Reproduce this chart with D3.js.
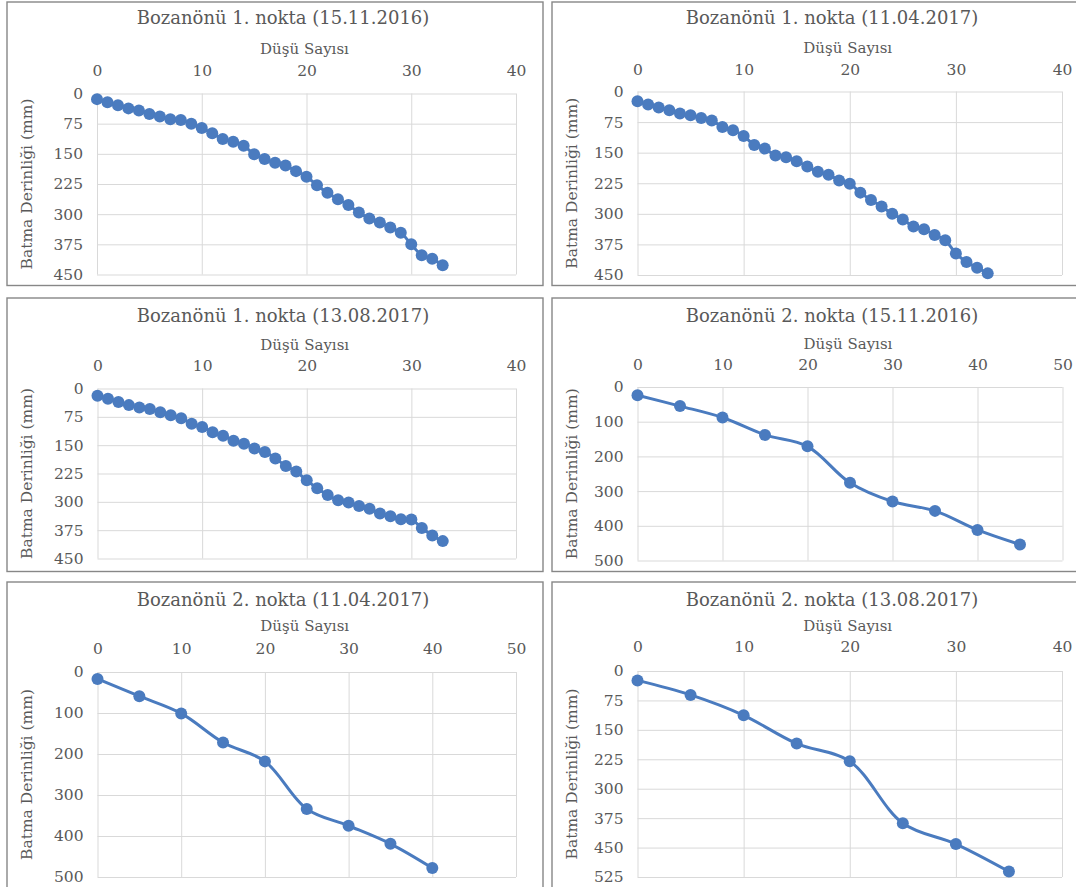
<!DOCTYPE html>
<html>
<head>
<meta charset="utf-8">
<script src="https://cdn.jsdelivr.net/npm/d3@7"></script>
<style>
  body { margin: 0; background: #fff; }
  svg { display: block; }
  text { font-family: "DejaVu Serif", "Liberation Serif", serif; fill: #595959; }
</style>
</head>
<body>
<svg id="chart" width="1076" height="887"></svg>
<script>
// Penetration test records: number of drops vs. penetration depth (mm)
const titles = [
  "Bozanönü 1. nokta (15.11.2016)",
  "Bozanönü 1. nokta (11.04.2017)",
  "Bozanönü 1. nokta (13.08.2017)",
  "Bozanönü 2. nokta (15.11.2016)",
  "Bozanönü 2. nokta (11.04.2017)",
  "Bozanönü 2. nokta (13.08.2017)"
];
const xAxisTitle = "Düşü Sayısı";
const yAxisTitle = "Batma Derinliği (mm)";

// Point 1: one reading per drop
const dropsPoint1 = [0,1,2,3,4,5,6,7,8,9,10,11,12,13,14,15,16,17,18,19,20,21,22,23,24,25,26,27,28,29,30,31,32,33];
const depthP1_20161115 = [14,22,29,37,42,51,57,64,66,75,86,99,113,120,130,151,163,172,179,193,207,228,247,263,277,296,311,321,333,346,375,402,411,427];
const depthP1_20170411 = [24,32,39,46,54,58,65,71,87,95,109,131,140,157,161,171,184,197,204,218,226,248,266,282,300,314,331,338,352,365,397,418,432,446];
const depthP1_20170813 = [19,27,36,44,50,54,63,71,79,93,102,116,125,138,146,159,168,185,205,220,243,264,282,296,302,311,318,331,338,346,347,369,389,404];

// Point 2: one reading every five drops
const dropsP2_20161115 = [0,5,10,15,20,25,30,35,40,45];
const depthP2_20161115 = [24,55,88,138,171,276,330,357,412,454];
const dropsP2_20170411 = [0,5,10,15,20,25,30,35,40];
const depthP2_20170411 = [17,59,101,172,218,334,375,419,478];
const dropsP2_20170813 = [0,5,10,15,20,25,30,35];
const depthP2_20170813 = [24,61,113,185,230,388,441,511];

// Axis ticks
const xTicks40 = [0,10,20,30,40];
const xTicks50 = [0,10,20,30,40,50];
const yTicks450 = [0,75,150,225,300,375,450];
const yTicks500 = [0,100,200,300,400,500];
const yTicks525 = [0,75,150,225,300,375,450,525];

const series = [
  { title: titles[0], x: dropsPoint1, y: depthP1_20161115, xt: xTicks40, yt: yTicks450 },
  { title: titles[1], x: dropsPoint1, y: depthP1_20170411, xt: xTicks40, yt: yTicks450 },
  { title: titles[2], x: dropsPoint1, y: depthP1_20170813, xt: xTicks40, yt: yTicks450 },
  { title: titles[3], x: dropsP2_20161115, y: depthP2_20161115, xt: xTicks50, yt: yTicks500 },
  { title: titles[4], x: dropsP2_20170411, y: depthP2_20170411, xt: xTicks50, yt: yTicks500 },
  { title: titles[5], x: dropsP2_20170813, y: depthP2_20170813, xt: xTicks40, yt: yTicks525 }
];

// Panel frames and plot areas (page pixels)
const layout = [
  { box: [7, 2, 536, 283.5],   plot: [97, 516, 93.5, 274.5],   titleX: 283, titleY: 18,    axisY: 48.5,  tickY: 71 },
  { box: [552, 2, 540, 283.5], plot: [637.5, 1062, 91.5, 275], titleX: 832, titleY: 18,    axisY: 48,    tickY: 69.5 },
  { box: [7, 298, 536, 273.5], plot: [97.5, 516, 388.5, 558.5], titleX: 283, titleY: 315.5, axisY: 345,  tickY: 366 },
  { box: [552, 298, 540, 273.5], plot: [637.5, 1062.5, 387, 560.5], titleX: 832, titleY: 315.5, axisY: 344, tickY: 364.5 },
  { box: [7, 582, 536, 320],   plot: [97.5, 516, 672, 877],     titleX: 283, titleY: 600,   axisY: 625.5, tickY: 648.5 },
  { box: [552, 582, 540, 320], plot: [637.5, 1062, 671, 877],   titleX: 832, titleY: 600,   axisY: 626,   tickY: 647 }
];

const blue = "#4a7bbf";
const svg = d3.select("#chart");

series.forEach((s, i) => {
  const L = layout[i];
  const [bx, by, bw, bh] = L.box;
  const [pl, pr, pt, pb] = L.plot;
  const g = svg.append("g");

  // chart frame
  g.append("rect")
    .attr("x", bx).attr("y", by).attr("width", bw).attr("height", bh)
    .attr("fill", "#fff").attr("stroke", "#878787").attr("stroke-width", 1.4);

  const x = d3.scaleLinear().domain([s.xt[0], s.xt[s.xt.length - 1]]).range([pl, pr]);
  const y = d3.scaleLinear().domain([s.yt[0], s.yt[s.yt.length - 1]]).range([pt, pb]);

  // gridlines (top axis, depth increasing downwards)
  const xGrid = d3.axisTop(x).tickValues(s.xt).tickSize(-(pb - pt)).tickFormat("");
  const yGrid = d3.axisLeft(y).tickValues(s.yt).tickSize(-(pr - pl)).tickFormat("");
  g.append("g").attr("transform", `translate(0,${pt})`).call(xGrid)
    .call(a => a.select(".domain").remove())
    .call(a => a.selectAll("line").attr("stroke", "#d9d9d9").attr("stroke-width", 1));
  g.append("g").attr("transform", `translate(${pl},0)`).call(yGrid)
    .call(a => a.select(".domain").remove())
    .call(a => a.selectAll("line").attr("stroke", "#d9d9d9").attr("stroke-width", 1));

  // tick labels
  const xLab = d3.axisTop(x).tickValues(s.xt).tickSize(0).tickPadding(0);
  g.append("g").attr("transform", `translate(0,${L.tickY})`).call(xLab)
    .call(a => a.select(".domain").remove())
    .call(a => a.selectAll("text")
      .attr("y", 0).attr("dy", "0.35em")
      .style("font-family", '"DejaVu Serif", serif').style("font-size", "15.5px").attr("fill", "#595959"));
  const yLab = d3.axisLeft(y).tickValues(s.yt).tickSize(0).tickPadding(14);
  g.append("g").attr("transform", `translate(${pl},0)`).call(yLab)
    .call(a => a.select(".domain").remove())
    .call(a => a.selectAll("text")
      .style("font-family", '"DejaVu Serif", serif').style("font-size", "15.5px").attr("fill", "#595959"));

  // titles
  g.append("text").attr("x", L.titleX).attr("y", L.titleY).attr("dy", "0.35em")
    .attr("text-anchor", "middle").style("font-size", "18px").text(s.title);
  g.append("text").attr("x", (pl + pr) / 2 - 2).attr("y", L.axisY).attr("dy", "0.35em")
    .attr("text-anchor", "middle").style("font-size", "15px").text(xAxisTitle);
  g.append("text")
    .attr("transform", `translate(${bx + 20},${(pt + pb) / 2}) rotate(-90)`)
    .attr("dy", "0.35em").attr("text-anchor", "middle").style("font-size", "15.5px")
    .text(yAxisTitle);

  // data line and markers
  const pts = s.x.map((d, k) => [d, s.y[k]]);
  const line = d3.line().x(d => x(d[0])).y(d => y(d[1])).curve(d3.curveCatmullRom.alpha(0.5));
  g.append("path").datum(pts).attr("d", line)
    .attr("fill", "none").attr("stroke", blue).attr("stroke-width", 3)
    .attr("stroke-linejoin", "round").attr("stroke-linecap", "round");
  g.selectAll("circle.pt").data(pts).enter().append("circle")
    .attr("class", "pt")
    .attr("cx", d => x(d[0])).attr("cy", d => y(d[1])).attr("r", 6)
    .attr("fill", blue);
});
</script>
</body>
</html>
